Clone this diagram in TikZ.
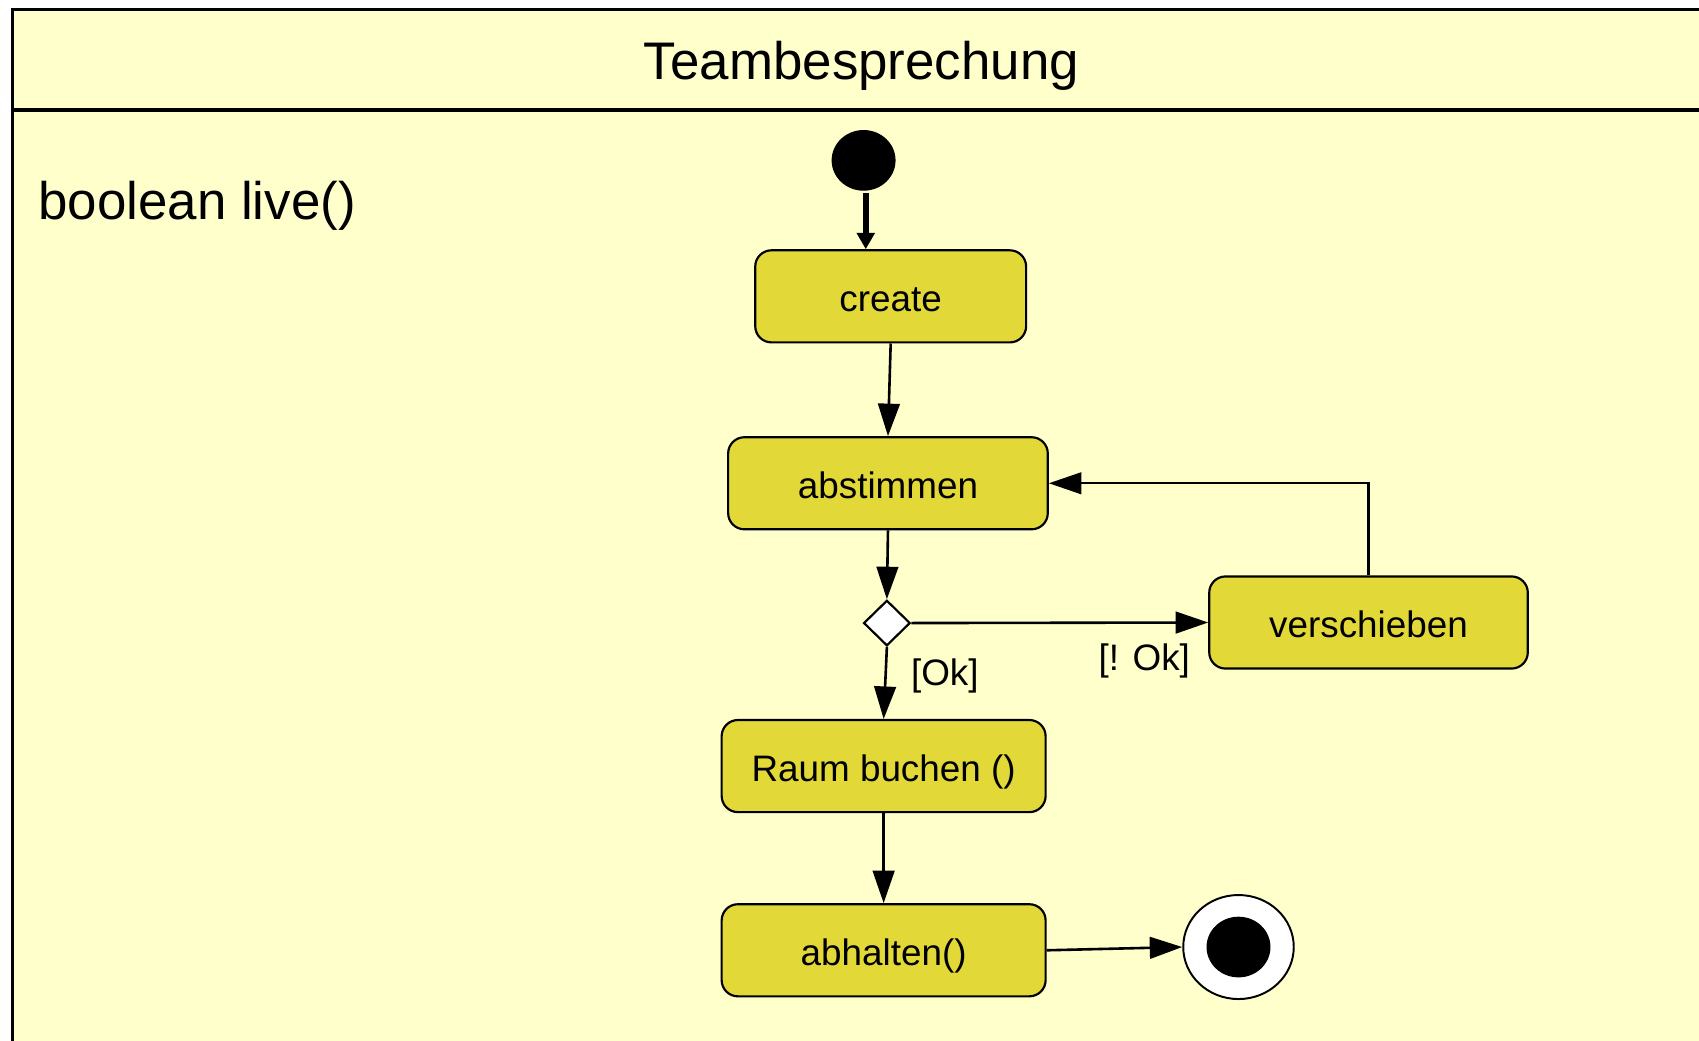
\documentclass[tikz,border=0pt]{standalone}
\usepackage{fontspec}
\setmainfont{Liberation Sans}
\usetikzlibrary{shapes.geometric,arrows.meta}
\definecolor{bgyellow}{RGB}{255,255,204}
\definecolor{boxyellow}{RGB}{226,217,56}
\tikzset{
  act/.style={draw=black,line width=1pt,fill=boxyellow,rounded corners=7.5pt,
    minimum height=42.5pt,inner sep=0pt,text height=14.5pt,text depth=0.5pt,
    font=\fontsize{17}{20}\selectfont},
  conn/.style={line width=1.2pt,-{Triangle[length=15pt,width=10pt]}},
  guard/.style={font=\fontsize{17}{20}\selectfont,inner sep=0pt},
  blob/.style={ellipse,fill=black,draw=none,minimum width=29.5pt,minimum height=28pt,inner sep=0pt}
}
\begin{document}
\begin{tikzpicture}[x=0.5pt,y=-0.5pt]
\useasboundingbox (0,0) rectangle (1568,960);
\clip (0,0) rectangle (1568,960);
\fill[white] (0,0) rectangle (1568,960);
\draw[line width=1.5pt,fill=bgyellow] (11.5,8.5) rectangle (1620,1010);
\coordinate (hl) at (11.5,101.5);
\coordinate (hr) at (1620,101.5);
\draw[line width=1.5pt] (hl) -- (hr);
\node[font=\fontsize{24.4}{28}\selectfont,inner sep=0pt] (title) at (795,61) {Teambesprechung};
\node[font=\fontsize{24.4}{28}\selectfont,inner sep=0pt,anchor=west] (live) at (35,190) {boolean live()};
\node[blob] (init) at (797,148) {};
\node[act,minimum width=125pt] (create) at (822,273.5) {create};
\node[act,minimum width=147.5pt] (abst) at (819.5,446) {abstimmen};
\node[diamond,draw=black,fill=white,line width=1pt,minimum width=21.5pt,minimum height=21pt,inner sep=0pt] (dec) at (818.5,575) {};
\node[act,minimum width=147pt] (versch) at (1263,574.5) {verschieben};
\node[act,minimum width=149.5pt] (raum) at (815.5,707) {Raum buchen ()};
\node[act,minimum width=149.5pt] (abh) at (815.5,877) {abhalten()};
\node[ellipse,draw=black,fill=white,line width=0.9pt,minimum width=51pt,minimum height=48pt,inner sep=0pt] (final) at (1143,874) {};
\node[blob] (finalin) at (final.center) {};
\coordinate (initfoot) at (799,178);
\draw[line width=3pt,-{Triangle[length=7.5pt,width=8pt]}] (initfoot) -- (initfoot |- create.north);
\draw[conn] (create.south) -- (abst.north);
\draw[conn] (abst.south) -- (dec.north);
\draw[conn] (dec.east) -- (versch.west);
\draw[conn,line width=1pt] (versch.north) |- (abst.east);
\draw[conn] (dec.south) -- (raum.north);
\draw[conn] (raum.south) -- (abh.north);
\draw[conn] (abh.east) -- (final.west);
\node[guard] (ok) at (872,624) {[Ok]};
\node[guard] (nok) at (1056,610) {[! Ok]};
\end{tikzpicture}
\end{document}
